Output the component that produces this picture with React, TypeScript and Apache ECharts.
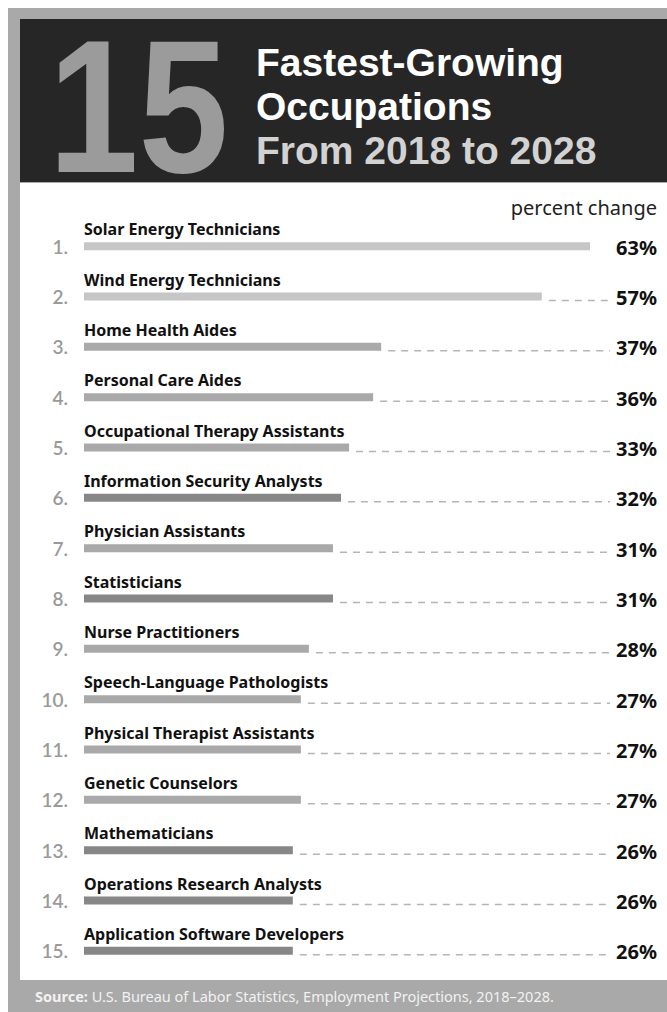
import React, { useEffect, useRef } from "react";
import * as echarts from "echarts";

const occupations = [
  "Solar Energy Technicians",
  "Wind Energy Technicians",
  "Home Health Aides",
  "Personal Care Aides",
  "Occupational Therapy Assistants",
  "Information Security Analysts",
  "Physician Assistants",
  "Statisticians",
  "Nurse Practitioners",
  "Speech-Language Pathologists",
  "Physical Therapist Assistants",
  "Genetic Counselors",
  "Mathematicians",
  "Operations Research Analysts",
  "Application Software Developers",
];
const percentChange = [63, 57, 37, 36, 33, 32, 31, 31, 28, 27, 27, 27, 26, 26, 26];
const groups = [
  "energy", "energy", "health", "health", "health", "tech", "health", "tech",
  "health", "health", "health", "health", "tech", "tech", "tech",
];
const rankLabels = ["1.", "2.", "3.", "4.", "5.", "6.", "7.", "8.", "9.", "10.", "11.", "12.", "13.", "14.", "15."];
const groupColors: Record<string, string> = {
  energy: "#c6c6c6",
  health: "#a9a9a9",
  tech: "#878787",
};

const W = 667;
const H = 1012;
const FONT = "'Noto Sans'";
const HEAD_FONT = "'Liberation Sans'";
const LABEL_RIGHT = 657;

export default function App() {
  const ref = useRef<HTMLDivElement>(null);
  useEffect(() => {
    document.body.style.margin = "0";
    if (!ref.current) return;
    const chart = echarts.init(ref.current, undefined, { renderer: "svg" });
    const option: any = {
      animation: false,
      backgroundColor: "#ffffff",
      grid: { left: 84, right: W - 590, top: 221, height: 755, containLabel: false },
      xAxis: { type: "value", min: 0, max: 63, show: false },
      yAxis: {
        type: "category",
        inverse: true,
        data: rankLabels,
        axisLine: { show: false },
        axisTick: { show: false },
        splitLine: { show: false },
        axisLabel: {
          margin: 16,
          color: "#9a9a9a",
          fontFamily: "Lato",
          fontSize: 19,
          fontWeight: 600,
        },
      },
      graphic: [
        { type: "rect", shape: { x: 8, y: 8, width: W - 8, height: H - 8 }, style: { fill: "#a9a9a9" }, z: -10 },
        { type: "rect", shape: { x: 20, y: 19, width: W - 20, height: 163 }, style: { fill: "#262626" }, z: -9 },
        { type: "rect", shape: { x: 20, y: 183, width: W - 20, height: 797 }, style: { fill: "#ffffff" }, z: -9 },
        {
          type: "text", x: 138.5, y: 106, scaleX: 0.87, scaleY: 1.02,
          style: { text: "15", fill: "#9b9b9b", font: `bold 186px ${HEAD_FONT}`, align: "center", verticalAlign: "middle" },
        },
        { type: "text", x: 256, y: 62.5, style: { text: "Fastest-Growing", fill: "#ffffff", font: `bold 39px ${HEAD_FONT}`, verticalAlign: "middle" } },
        { type: "text", x: 256, y: 106.5, style: { text: "Occupations", fill: "#ffffff", font: `bold 39px ${HEAD_FONT}`, verticalAlign: "middle" } },
        { type: "text", x: 256, y: 150.5, style: { text: "From 2018 to 2028", fill: "#d2d2d2", font: `bold 39px ${HEAD_FONT}`, verticalAlign: "middle" } },
        { type: "text", x: LABEL_RIGHT, y: 207, style: { text: "percent change", fill: "#222222", font: `normal 20px ${FONT}`, align: "right", verticalAlign: "middle" } },
        {
          type: "text", x: 35, y: 996,
          style: {
            rich: {
              b: { fontFamily: FONT, fontWeight: "bold", fontSize: 14.5, fill: "#f2f2f2" },
              n: { fontFamily: FONT, fontWeight: "normal", fontSize: 14.5, fill: "#f2f2f2" },
            },
            text: "{b|Source:}{n| U.S. Bureau of Labor Statistics, Employment Projections, 2018–2028.}",
            verticalAlign: "middle",
          },
        },
      ],
      series: [
        {
          type: "bar",
          barWidth: 8,
          data: percentChange.map((v, i) => ({
            value: v,
            itemStyle: { color: groupColors[groups[i]] },
            label: { formatter: occupations[i] },
          })),
          label: {
            show: true,
            position: [0, -13],
            align: "left",
            verticalAlign: "middle",
            fontFamily: FONT,
            fontWeight: "bold",
            fontSize: 16,
            color: "#111111",
          },
          silent: true,
        },
        {
          type: "custom",
          data: percentChange.map((v, i) => [v, i]),
          encode: { x: 0, y: 1 },
          silent: true,
          renderItem: (params: any, api: any) => {
            const v = api.value(0);
            const idx = api.value(1);
            const p = api.coord([v, idx]);
            const start = p[0] + 7;
            const end = LABEL_RIGHT - 47;
            const children: any[] = [];
            if (end - start > 20) {
              children.push({
                type: "line",
                shape: { x1: start, y1: p[1] + 4, x2: end, y2: p[1] + 4 },
                style: { stroke: "#b5b5b5", lineWidth: 1.5, lineDash: [7, 6] },
              });
            }
            children.push({
              type: "text",
              x: LABEL_RIGHT,
              y: p[1] + 1,
              style: {
                text: `${percentChange[idx]}%`,
                fill: "#111111",
                font: `bold 20px ${FONT}`,
                align: "right",
                verticalAlign: "middle",
              },
            });
            return { type: "group", children };
          },
        },
      ],
    };
    chart.setOption(option);
    return () => chart.dispose();
  }, []);
  return <div ref={ref} style={{ width: W, height: H }} />;
}
